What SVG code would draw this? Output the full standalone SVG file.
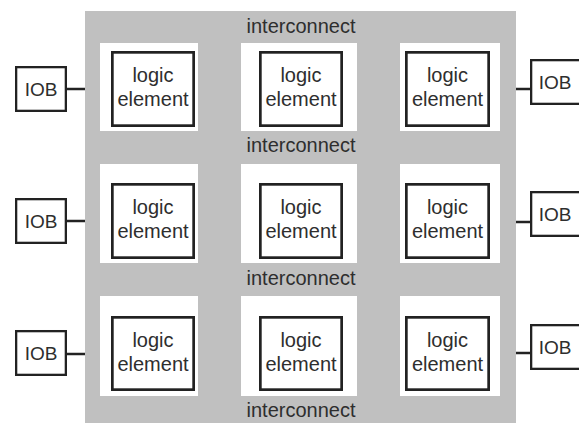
<svg xmlns="http://www.w3.org/2000/svg" width="579" height="423" viewBox="0 0 579 423">
<style>
.t{font-family:"Liberation Sans",Arial,sans-serif;font-size:20px;fill:#2e2e2e;text-anchor:middle}
.io{font-size:19px}
.cell{fill:#ffffff;stroke:none}
.le{fill:#ffffff;stroke:#222;stroke-width:2.7}
.iob{fill:#ffffff;stroke:#222;stroke-width:2.3}
.w{stroke:#222;stroke-width:2.5;fill:none}
</style>
<rect width="579" height="423" fill="#ffffff"/>
<g id="fabric">
<rect x="85" y="11" width="431" height="412" fill="#c0c0c0"/>
<text class="t" x="301" y="33">interconnect</text>
<text class="t" x="301" y="152">interconnect</text>
<text class="t" x="301" y="285">interconnect</text>
<text class="t" x="301" y="417">interconnect</text>
</g>
<g id="connectors">
<line class="w" x1="66" y1="89" x2="85" y2="89"/>
<line class="w" x1="66" y1="221" x2="85" y2="221"/>
<line class="w" x1="66" y1="354" x2="85" y2="354"/>
<line class="w" x1="516" y1="89" x2="531" y2="89"/>
<line class="w" x1="516" y1="222" x2="531" y2="222"/>
<line class="w" x1="516" y1="353" x2="531" y2="353"/>
</g>
<g id="le11"><rect class="cell" x="100" y="43" width="98" height="88"/><rect class="le" x="112.35" y="52.35" width="81.3" height="73.3"/><text class="t" x="153" y="82">logic</text><text class="t" x="153" y="106">element</text></g>
<g id="le12"><rect class="cell" x="241" y="43" width="116" height="88"/><rect class="le" x="260.35" y="52.35" width="81.3" height="73.3"/><text class="t" x="301" y="82">logic</text><text class="t" x="301" y="106">element</text></g>
<g id="le13"><rect class="cell" x="400" y="43" width="100" height="88"/><rect class="le" x="406.35" y="52.35" width="82.3" height="73.3"/><text class="t" x="447.5" y="82">logic</text><text class="t" x="447.5" y="106">element</text></g>
<g id="le21"><rect class="cell" x="100" y="164" width="98" height="99"/><rect class="le" x="112.35" y="184.35" width="81.3" height="73.3"/><text class="t" x="153" y="214">logic</text><text class="t" x="153" y="238">element</text></g>
<g id="le22"><rect class="cell" x="241" y="164" width="116" height="99"/><rect class="le" x="260.35" y="184.35" width="81.3" height="73.3"/><text class="t" x="301" y="214">logic</text><text class="t" x="301" y="238">element</text></g>
<g id="le23"><rect class="cell" x="400" y="164" width="100" height="99"/><rect class="le" x="406.35" y="184.35" width="82.3" height="73.3"/><text class="t" x="447.5" y="214">logic</text><text class="t" x="447.5" y="238">element</text></g>
<g id="le31"><rect class="cell" x="100" y="296" width="98" height="100"/><rect class="le" x="112.35" y="317.35" width="81.3" height="72.3"/><text class="t" x="153" y="346.5">logic</text><text class="t" x="153" y="370.5">element</text></g>
<g id="le32"><rect class="cell" x="241" y="296" width="116" height="100"/><rect class="le" x="260.35" y="317.35" width="81.3" height="72.3"/><text class="t" x="301" y="346.5">logic</text><text class="t" x="301" y="370.5">element</text></g>
<g id="le33"><rect class="cell" x="400" y="296" width="100" height="100"/><rect class="le" x="406.35" y="317.35" width="82.3" height="72.3"/><text class="t" x="447.5" y="346.5">logic</text><text class="t" x="447.5" y="370.5">element</text></g>
<g id="iobL1"><rect class="iob" x="16.15" y="67.15" width="49.7" height="43.7"/><text class="t io" x="41" y="96">IOB</text></g>
<g id="iobL2"><rect class="iob" x="16.15" y="199.15" width="49.7" height="43.7"/><text class="t io" x="41" y="228">IOB</text></g>
<g id="iobL3"><rect class="iob" x="16.15" y="331.15" width="49.7" height="43.7"/><text class="t io" x="41" y="360">IOB</text></g>
<g id="iobR1"><rect class="iob" x="531.15" y="60.15" width="60" height="43.7"/><text class="t io" x="555" y="89">IOB</text></g>
<g id="iobR2"><rect class="iob" x="531.15" y="192.15" width="60" height="43.7"/><text class="t io" x="555" y="221">IOB</text></g>
<g id="iobR3"><rect class="iob" x="531.15" y="325.15" width="60" height="43.7"/><text class="t io" x="555" y="354">IOB</text></g>
</svg>
